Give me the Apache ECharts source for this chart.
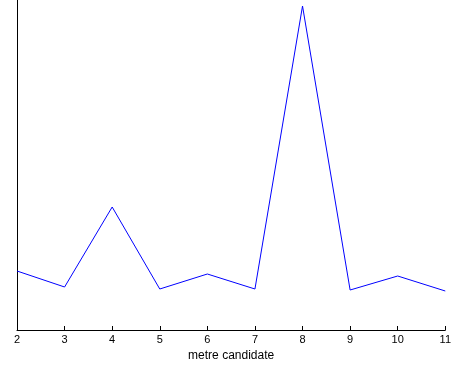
<!DOCTYPE html>
<html>
<head>
<meta charset="utf-8">
<script src="https://cdn.jsdelivr.net/npm/echarts@6/dist/echarts.min.js"></script>
<style>
  html, body { margin: 0; padding: 0; background: #fff; }
  #chart { width: 454px; height: 367px; }
</style>
</head>
<body>
<div id="chart"></div>
<script>
const candidates = [2, 3, 4, 5, 6, 7, 8, 9, 10, 11];
const scores = [59, 43, 123, 41, 56, 41, 324, 40, 54, 39];

const chart = echarts.init(document.getElementById('chart'));
chart.setOption({
  animation: false,
  grid: { left: 17, right: 6, top: 0, bottom: 37 },
  xAxis: {
    type: 'value',
    min: 2,
    max: 11,
    interval: 1,
    name: 'metre candidate',
    nameLocation: 'middle',
    nameGap: 19,
    nameTextStyle: { color: '#000', fontSize: 12, fontFamily: 'Liberation Sans' },
    axisLine: { lineStyle: { color: '#000', width: 1 } },
    axisTick: { inside: true, length: 4, lineStyle: { color: '#000' } },
    axisLabel: { color: '#000', fontSize: 11, fontFamily: 'Liberation Sans', margin: 4 },
    splitLine: { show: false }
  },
  yAxis: {
    type: 'value',
    min: 0,
    max: 330,
    axisLine: { show: true, lineStyle: { color: '#000', width: 1 } },
    axisTick: { show: false },
    axisLabel: { show: false },
    splitLine: { show: false }
  },
  series: [{
    type: 'line',
    data: candidates.map((c, i) => [c, scores[i]]),
    showSymbol: false,
    lineStyle: { color: '#0000ff', width: 1 }
  }]
});
</script>
</body>
</html>
